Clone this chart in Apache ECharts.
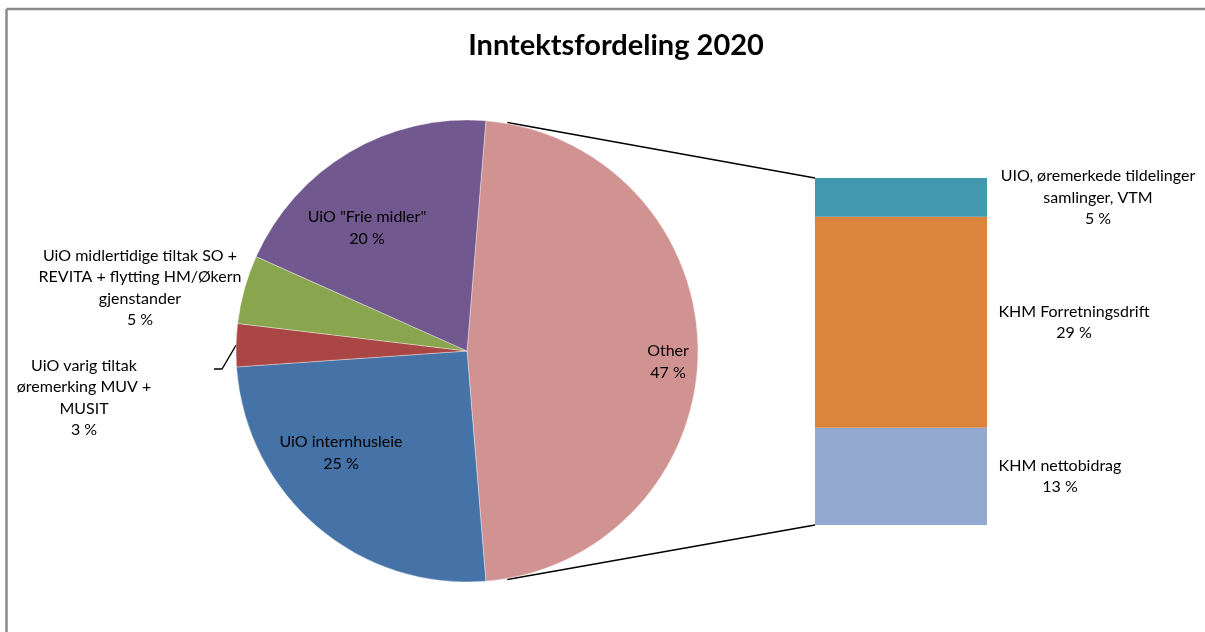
<!DOCTYPE html>
<html>
<head>
<meta charset="utf-8">
<script src="https://cdn.jsdelivr.net/npm/echarts@6/dist/echarts.min.js"></script>
<style>
html,body{margin:0;padding:0;background:#fff;overflow:hidden;}
#c{width:1205px;height:632px;}
</style>
</head>
<body>
<div id="c"></div>
<script>
// ---- data ----
const titleText = 'Inntektsfordeling 2020';
const pieCategories = ['Other', 'UiO internhusleie', 'UiO varig tiltak\nøremerking MUV +\nMUSIT', 'UiO midlertidige tiltak SO +\nREVITA + flytting HM/Økern\ngjenstander', 'UiO "Frie midler"'];
const pieValues = [47.4, 25.2, 3.0, 4.8, 19.6];
const barCategories = ['KHM nettobidrag', 'KHM Forretningsdrift', 'UIO, øremerkede tildelinger\nsamlinger, VTM'];
const barValues = [13.3, 28.8, 5.3];

// ---- styles / layout ----
const FONT = 'Lato';
const FS = 16;
const pieColors = ['#D19392', '#4572A7', '#AA4643', '#89A54E', '#71588F'];
const barColors = ['#93A9CF', '#DB843D', '#4198AF'];
const PIE_C = [467, 351], PIE_R = 231;
const BAR = {left: 815, top: 178, width: 172, height: 347};
const pieLabelPos = [[668, 362], [341, 453], [84, 398], [140, 288], [367, 228]];
const barLabelX = [245, 259, 283];

const total = pieValues.reduce((a, b) => a + b, 0);
const startAngle = pieValues[0] / total * 360 / 2;
function pct(v, t) { return Math.round(v / t * 100) + ' %'; }
function midAngle(i) { // degrees, counterclockwise from east
  let acc = 0; for (let k = 0; k < i; k++) acc += pieValues[k];
  return startAngle - (acc + pieValues[i] / 2) / total * 360;
}
function piePt(angDeg, r) {
  const a = angDeg * Math.PI / 180;
  return [PIE_C[0] + r * Math.cos(a), PIE_C[1] - r * Math.sin(a)];
}

const chart = echarts.init(document.getElementById('c'), null, {renderer: 'canvas'});

const barSeries = barValues.map((v, i) => ({
  type: 'bar', stack: 'sub', name: barCategories[i],
  data: [v], barWidth: '100%',
  itemStyle: {color: barColors[i]},
  label: {
    show: true, position: [barLabelX[i], '50%'], align: 'center', verticalAlign: 'middle',
    color: '#000', fontFamily: FONT, fontSize: FS, lineHeight: 21.5,
    formatter: () => barCategories[i] + '\n' + pct(v, total)
  }
}));

chart.setOption({
  animation: false,
  backgroundColor: '#fff',
  title: {
    text: titleText, left: 611, top: 26, textAlign: 'center',
    textStyle: {fontFamily: FONT, fontWeight: 'bold', fontSize: 29, color: '#000'}
  },
  grid: {left: BAR.left, top: BAR.top, width: BAR.width, height: BAR.height},
  xAxis: {type: 'category', data: ['sub'], show: false},
  yAxis: {type: 'value', min: 0, max: barValues.reduce((a, b) => a + b, 0), show: false},
  series: [{
    type: 'pie', center: PIE_C, radius: PIE_R, startAngle: startAngle, clockwise: true,
    itemStyle: {borderColor: 'rgba(255,255,255,0.6)', borderWidth: 0.6},
    emphasis: {disabled: true},
    data: pieValues.map((v, i) => ({
      name: pieCategories[i], value: v,
      itemStyle: {color: pieColors[i]},
      label: {position: (i === 2 || i === 3) ? 'outside' : 'inside', overflow: 'none', width: 300},
      labelLine: {show: i === 2, lineStyle: {color: '#000', width: 1.3}}
    })),
    label: {
      show: true, color: '#000', fontFamily: FONT, fontSize: FS, lineHeight: 21.5,
      overflow: 'none',
      formatter: p => p.name + '\n' + pct(p.value, total)
    },
    labelLine: {show: false},
    labelLayout: function (p) {
      const pos = pieLabelPos[p.dataIndex];
      const o = {x: pos[0], y: pos[1], align: 'center', verticalAlign: 'middle'};
      if (p.dataIndex === 2) {
        const s = piePt(midAngle(2), PIE_R);
        o.labelLinePoints = [s, [222, 369], [214, 369]];
      }
      return o;
    }
  }].concat(barSeries)
});

// connector lines and frame
const topPt = piePt(80, PIE_R + 1), botPt = piePt(-80, PIE_R + 1);
const barTop = chart.convertToPixel({gridIndex: 0}, [0, barValues.reduce((a, b) => a + b, 0)]);
const barBot = chart.convertToPixel({gridIndex: 0}, [0, 0]);
chart.setOption({
  graphic: [
    {type: 'line', shape: {x1: 6.5, y1: 9, x2: 1210, y2: 9}, style: {stroke: '#8a8a8a', lineWidth: 2.5}, silent: true},
    {type: 'line', shape: {x1: 6.5, y1: 9, x2: 6.5, y2: 640}, style: {stroke: '#8a8a8a', lineWidth: 2.5}, silent: true},
    {type: 'line', shape: {x1: topPt[0], y1: topPt[1], x2: BAR.left, y2: barTop[1]}, style: {stroke: '#000', lineWidth: 1.5}, silent: true},
    {type: 'line', shape: {x1: botPt[0], y1: botPt[1], x2: BAR.left, y2: barBot[1]}, style: {stroke: '#000', lineWidth: 1.5}, silent: true}
  ]
});
</script>
</body>
</html>
